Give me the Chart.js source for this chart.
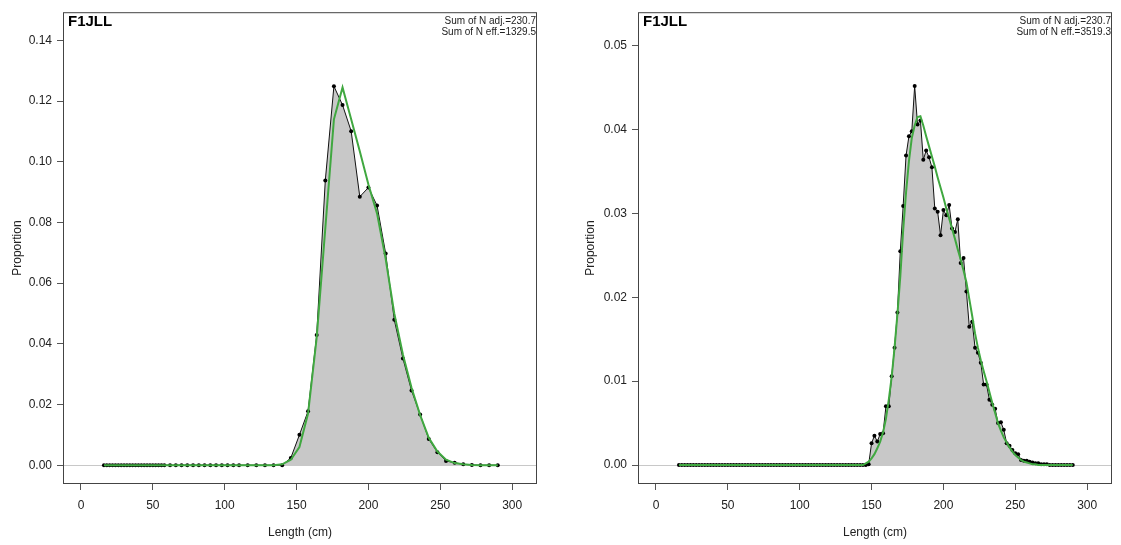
<!DOCTYPE html>
<html>
<head>
<meta charset="utf-8">
<script src="https://cdn.jsdelivr.net/npm/chart.js@4.4.0/dist/chart.umd.min.js"></script>
<style>
  body { margin: 0; background: #fff; }
  #wrap { position: relative; width: 1121px; height: 545px; }
  canvas { position: absolute; top: 0; }
  #leftPanel { left: 0; }
  #rightPanel { left: 560px; }
</style>
</head>
<body>
<div id="wrap">
  <canvas id="leftPanel" width="560" height="545"></canvas>
  <canvas id="rightPanel" width="561" height="545"></canvas>
</div>
<script>
// length bins (cm) and proportions, fleet F1JLL
const leftLengths = [16, 18, 20, 22, 24, 26, 28, 30, 32, 34, 36, 38, 40, 42, 44, 46, 48, 50, 52, 54, 56, 58,
    62, 66, 70, 74, 78, 82, 86, 90, 94, 98, 102, 106, 110,
    116, 122, 128, 134, 140, 146, 152, 158, 164, 170, 176, 182, 188, 194, 200, 206, 212, 218, 224,
    230, 236, 242, 248, 254, 260, 266, 272, 278, 284, 290];
const leftObserved = [0, 0, 0, 0, 0, 0, 0, 0, 0, 0, 0, 0, 0, 0, 0, 0, 0, 0, 0, 0, 0, 0,
    0, 0, 0, 0, 0, 0, 0, 0, 0, 0, 0, 0, 0,
    0, 0, 0, 0, 0, 0.0024, 0.0100, 0.0178, 0.0429, 0.0938, 0.1249, 0.1187, 0.1101, 0.0885, 0.0915,
    0.0856, 0.0698, 0.0479, 0.0352, 0.0246, 0.0167, 0.0086, 0.0043, 0.0014, 0.0008, 0.0003, 0.0001, 0, 0, 0];
const leftExpected = [0, 0, 0, 0, 0, 0, 0, 0, 0, 0, 0, 0, 0, 0, 0, 0, 0, 0, 0, 0, 0, 0,
    0, 0, 0, 0, 0, 0, 0, 0, 0, 0, 0, 0, 0,
    0, 0, 0, 0, 0.0003, 0.0018, 0.0060, 0.0170, 0.0420, 0.0780, 0.1140, 0.1245, 0.1140, 0.1035, 0.0925,
    0.0830, 0.0680, 0.0500, 0.0365, 0.0255, 0.0165, 0.0090, 0.0045, 0.0018, 0.0007, 0.0003, 0.0001, 0, 0, 0];

const rightLengths = [16, 18, 20, 22, 24, 26, 28, 30, 32, 34, 36, 38, 40, 42, 44, 46, 48, 50, 52, 54,
    56, 58, 60, 62, 64, 66, 68, 70, 72, 74, 76, 78, 80, 82, 84, 86, 88, 90, 92, 94,
    96, 98, 100, 102, 104, 106, 108, 110, 112, 114, 116, 118, 120, 122, 124, 126, 128, 130, 132, 134,
    136, 138, 140, 142, 144, 146, 148, 150, 152, 154, 156, 158, 160, 162, 164, 166, 168, 170, 172, 174,
    176, 178, 180, 182, 184, 186, 188, 190, 192, 194, 196, 198, 200, 202, 204, 206, 208, 210, 212, 214,
    216, 218, 220, 222, 224, 226, 228, 230, 232, 234, 236, 238, 240, 242, 244, 246, 248, 250, 252, 254,
    256, 258, 260, 262, 264, 266, 268, 270, 272, 274, 276, 278, 280, 282, 284, 286, 288, 290];
const rightObserved = [0, 0, 0, 0, 0, 0, 0, 0, 0, 0, 0, 0, 0, 0, 0, 0, 0, 0, 0, 0,
    0, 0, 0, 0, 0, 0, 0, 0, 0, 0, 0, 0, 0, 0, 0, 0, 0, 0, 0, 0,
    0, 0, 0, 0, 0, 0, 0, 0, 0, 0, 0, 0, 0, 0, 0, 0, 0, 0, 0, 0,
    0, 0, 0, 0, 0, 0, 0.0001, 0.0026, 0.0035, 0.0028, 0.0037, 0.0038, 0.0070, 0.0070, 0.0106, 0.0140, 0.0182, 0.0255, 0.0309, 0.0369,
    0.0392, 0.0398, 0.0452, 0.0406, 0.0411, 0.0364, 0.0375, 0.0367, 0.0355, 0.0306, 0.0302, 0.0274, 0.0304, 0.0298, 0.0310, 0.0282, 0.0278, 0.0293, 0.0241, 0.0247,
    0.0207, 0.0165, 0.0171, 0.0140, 0.0134, 0.0122, 0.0096, 0.0096, 0.0078, 0.0072, 0.0067, 0.0050, 0.0051, 0.0042, 0.0026, 0.0023, 0.0018, 0.0014, 0.0013, 0.0006,
    0.0005, 0.0005, 0.0004, 0.0003, 0.0002, 0.0002, 0.0001, 0.0001, 0.0001, 0, 0, 0, 0, 0, 0, 0, 0, 0];
const rightExpected = [0, 0, 0, 0, 0, 0, 0, 0, 0, 0, 0, 0, 0, 0, 0, 0, 0, 0, 0, 0,
    0, 0, 0, 0, 0, 0, 0, 0, 0, 0, 0, 0, 0, 0, 0, 0, 0, 0, 0, 0,
    0, 0, 0, 0, 0, 0, 0, 0, 0, 0, 0, 0, 0, 0, 0, 0, 0, 0, 0, 0,
    0, 0, 0, 0, 0, 0.0002, 0.0004, 0.0008, 0.0013, 0.0020, 0.0028, 0.0039, 0.0055, 0.0078, 0.0105, 0.0140, 0.0180, 0.0225, 0.0280, 0.0325,
    0.0362, 0.0390, 0.0405, 0.0415, 0.0416, 0.0405, 0.0392, 0.0380, 0.0368, 0.0356, 0.0343, 0.0331, 0.0319, 0.0306, 0.0294, 0.0282, 0.0270, 0.0257, 0.0245, 0.0232,
    0.0218, 0.0198, 0.0178, 0.0157, 0.0140, 0.0125, 0.0112, 0.0100, 0.0087, 0.0074, 0.0062, 0.0050, 0.0041, 0.0033, 0.0027, 0.0021, 0.0016, 0.0012, 0.0009, 0.0006,
    0.0004, 0.0003, 0.0002, 0.0001, 0.0001, 0, 0, 0, 0, 0, 0, 0, 0, 0, 0, 0, 0, 0];

const xTickValues = [0, 50, 100, 150, 200, 250, 300];
const leftYTicks = [0, 0.02, 0.04, 0.06, 0.08, 0.10, 0.12, 0.14];
const rightYTicks = [0, 0.01, 0.02, 0.03, 0.04, 0.05];

const fleetName = 'F1JLL';
const leftNotes = ['Sum of N adj.=230.7', 'Sum of N eff.=1329.5'];
const rightNotes = ['Sum of N adj.=230.7', 'Sum of N eff.=3519.3'];

const FONT = '"Liberation Sans", Arial, sans-serif';
const TEXT = '#222';

function toPoints(xs, ys) {
    return xs.map((x, i) => ({x: x, y: ys[i]}));
}

// box, zero line and corner labels, drawn like a base R plot
const framePlugin = {
    id: 'frame',
    beforeDatasetsDraw(chart) {
        const {ctx, chartArea, scales} = chart;
        const y0 = Math.round(scales.y.getPixelForValue(0)) + 0.5;
        ctx.save();
        ctx.strokeStyle = '#c8c8c8';
        ctx.lineWidth = 1;
        ctx.beginPath();
        ctx.moveTo(chartArea.left, y0);
        ctx.lineTo(chartArea.right, y0);
        ctx.stroke();
        ctx.restore();
    },
    afterDraw(chart, args, opts) {
        const {ctx, chartArea} = chart;
        ctx.save();
        ctx.strokeStyle = '#444';
        ctx.lineWidth = 1;
        ctx.strokeRect(chartArea.left + 0.5, chartArea.top + 0.5,
            chartArea.right - chartArea.left - 1, chartArea.bottom - chartArea.top - 1);

        ctx.fillStyle = '#000';
        ctx.font = 'bold 15px ' + FONT;
        ctx.textAlign = 'left';
        ctx.textBaseline = 'alphabetic';
        ctx.fillText(fleetName, chartArea.left + 5, chartArea.top + 14);

        ctx.fillStyle = TEXT;
        ctx.font = '10px ' + FONT;
        ctx.textAlign = 'right';
        opts.notes.forEach((line, i) => {
            ctx.fillText(line, chartArea.right - 1, chartArea.top + 12 + i * 11);
        });
        ctx.restore();
    }
};

function makePanel(canvasId, lengths, observed, expected, yTicks, yMin, yMax, notes, axisWidth, padRight, titlePad) {
    const canvas = document.getElementById(canvasId);
    return new Chart(canvas, {
        type: 'line',
        data: {
            datasets: [{
                label: 'expected',
                data: toPoints(lengths, expected),
                borderColor: '#40a840',
                borderWidth: 2,
                pointRadius: 0,
                fill: false,
                tension: 0
            }, {
                label: 'observed',
                data: toPoints(lengths, observed),
                borderColor: '#111',
                borderWidth: 1,
                backgroundColor: '#c8c8c8',
                pointRadius: 2,
                pointBackgroundColor: '#000',
                pointBorderWidth: 0,
                fill: 'origin',
                tension: 0
            }]
        },
        options: {
            responsive: false,
            animation: false,
            layout: {padding: {left: 0, right: padRight, top: 10, bottom: 0}},
            plugins: {
                legend: {display: false},
                tooltip: {enabled: false},
                frame: {notes: notes}
            },
            scales: {
                x: {
                    type: 'linear',
                    min: -12.5,
                    max: 317.3,
                    afterFit: scale => { scale.height = 61; },
                    afterBuildTicks: scale => { scale.ticks = xTickValues.map(v => ({value: v})); },
                    grid: {drawOnChartArea: false, tickLength: 6, color: '#555'},
                    border: {display: false},
                    ticks: {
                        padding: 8,
                        color: TEXT,
                        font: {family: FONT, size: 12},
                        maxRotation: 0,
                        callback: v => String(v)
                    },
                    title: {
                        display: true,
                        text: 'Length (cm)',
                        color: TEXT,
                        font: {family: FONT, size: 12},
                        padding: {top: 0, bottom: 5}
                    }
                },
                y: {
                    type: 'linear',
                    min: yMin,
                    max: yMax,
                    afterFit: scale => { scale.width = axisWidth; },
                    afterBuildTicks: scale => { scale.ticks = yTicks.map(v => ({value: v})); },
                    grid: {drawOnChartArea: false, tickLength: 6, color: '#555'},
                    border: {display: false},
                    ticks: {
                        padding: 5,
                        color: TEXT,
                        font: {family: FONT, size: 12},
                        callback: v => v.toFixed(2)
                    },
                    title: {
                        display: true,
                        text: 'Proportion',
                        color: TEXT,
                        font: {family: FONT, size: 12},
                        padding: {top: titlePad, bottom: 0}
                    }
                }
            }
        },
        plugins: [framePlugin]
    });
}

makePanel('leftPanel', leftLengths, leftObserved, leftExpected, leftYTicks,
    -0.0062, 0.1493, leftNotes, 63, 23, 10);
makePanel('rightPanel', rightLengths, rightObserved, rightExpected, rightYTicks,
    -0.00226, 0.0540, rightNotes, 78, 9, 23);
</script>
</body>
</html>
